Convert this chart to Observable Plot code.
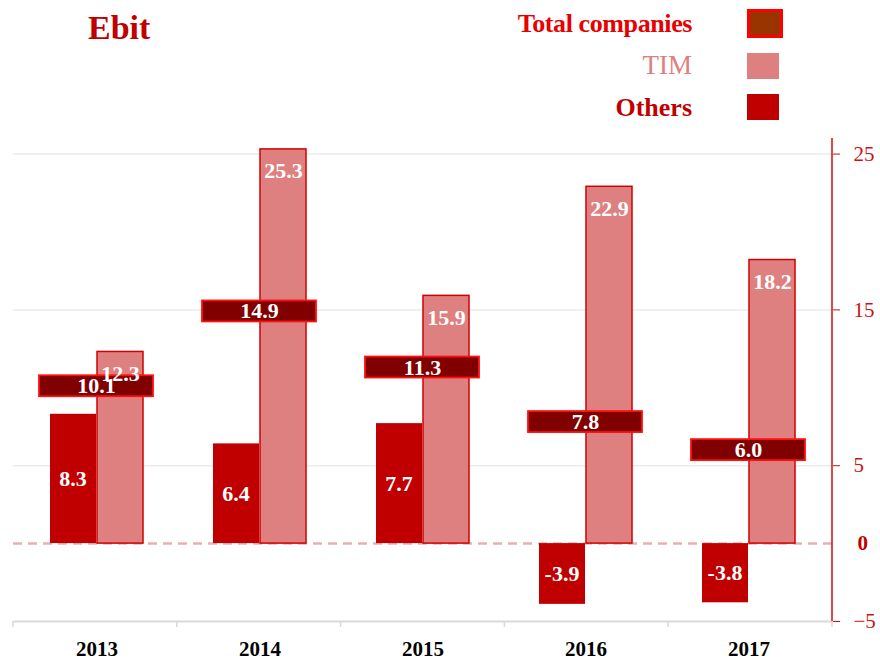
<!DOCTYPE html>
<html><head><meta charset="utf-8">
<script src="https://cdn.jsdelivr.net/npm/d3@7"></script>
<script src="https://cdn.jsdelivr.net/npm/@observablehq/plot@0.6"></script>
<style>
body{margin:0;background:#fff;font-family:"Liberation Serif",serif;}
#wrap{position:relative;width:880px;height:664px;overflow:hidden}
#head{position:relative;width:880px;height:130px}
.t{position:absolute;white-space:nowrap;line-height:1}
#title{left:88px;top:11px;font-size:34px;font-weight:bold;color:#c00000}
.lg{right:188px;text-align:right}
.sw{position:absolute;box-sizing:border-box}
</style></head><body>
<div id="wrap">
<div id="head">
  <div class="t" id="title">Ebit</div>
  <div class="t lg" style="top:11px;font-size:26px;font-weight:bold;color:#e80000;letter-spacing:-0.4px">Total companies</div>
  <div class="t lg" style="top:52px;font-size:27px;color:#df8080">TIM</div>
  <div class="t lg" style="top:95px;font-size:26px;font-weight:bold;color:#c00000">Others</div>
  <div class="sw" style="left:747px;top:9px;width:36px;height:29px;background:#993300;border:3px solid #ff0000"></div>
  <div class="sw" style="left:747px;top:53px;width:32px;height:26px;background:#df8080"></div>
  <div class="sw" style="left:747px;top:94px;width:32px;height:26px;background:#c00000"></div>
</div>
<div id="chart"></div>
</div>
<script>
const years = ["2013", "2014", "2015", "2016", "2017"];
const others = [8.3, 6.4, 7.7, -3.9, -3.8];
const tim = [12.3, 25.3, 15.9, 22.9, 18.2];
const total = [10.1, 14.9, 11.3, 7.8, 6.0];
const yTicks = [-5, 5, 15, 25];

const data = years.map((year, i) => ({year, others: others[i], tim: tim[i], total: total[i]}));
const red = "#c00000";
const fmt = v => v.toFixed(1);

const frameLines = (index, scales, values, dims) => {
  const g = d3.create("svg:g");
  const x0 = dims.marginLeft, x1 = dims.width - dims.marginRight;
  const yb = dims.height - dims.marginBottom;
  const n = years.length;
  for (let i = 0; i <= n; i++) {
    const xx = x0 + i * (x1 - x0) / n;
    g.append("line").attr("x1", xx).attr("x2", xx).attr("y1", yb).attr("y2", yb + 6)
      .attr("stroke", "#d9d9d9").attr("stroke-width", 1.5);
  }
  g.append("line").attr("x1", x1).attr("x2", x1).attr("y1", dims.marginTop).attr("y2", yb)
    .attr("stroke", "#cc1111").attr("stroke-width", 1.5);
  return g.node();
};

const chart = Plot.plot({
  width: 880, height: 534,
  marginTop: 8, marginBottom: 43, marginLeft: 13, marginRight: 48,
  style: {fontFamily: "'Liberation Serif', serif", background: "transparent", overflow: "visible"},
  x: {domain: years, padding: 0, label: null},
  y: {domain: [-5, 26], label: null},
  marks: [
    Plot.gridY([5, 15, 25], {stroke: "#ebebeb", strokeOpacity: 1, strokeWidth: 1.5}),
    Plot.ruleY([-5], {stroke: "#d9d9d9", strokeWidth: 2}),
    Plot.ruleY([0], {stroke: "#e8b0b0", strokeWidth: 2.5, strokeDasharray: "9,6"}),
    Plot.barY(data, {x: "year", y: "others", fill: red, insetLeft: 35, insetRight: 82}),
    Plot.barY(data, {x: "year", y: "tim", fill: "#df8080", stroke: "#d00000", strokeWidth: 1.5, insetLeft: 82, insetRight: 35}),
    Plot.barY(data, {x: "year", y1: "total", y2: "total", fill: "#800000", stroke: "#ff1010", strokeWidth: 1.8,
      insetLeft: 24, insetRight: 25, insetTop: -10.5, insetBottom: -10.5}),
    Plot.text(data, {x: "year", y: d => d.others / 2, text: d => fmt(d.others), dx: -24, fill: "white", fontSize: 22, fontWeight: "bold"}),
    Plot.text(data, {x: "year", y: "tim", text: d => fmt(d.tim), dx: 23.5, dy: 22, fill: "white", fontSize: 22, fontWeight: "bold"}),
    Plot.text(data, {x: "year", y: "total", text: d => fmt(d.total), dx: -0.5, fill: "white", fontSize: 22, fontWeight: "bold"}),
    Plot.axisX({tickSize: 0, tickPadding: 20, fontSize: 21, fontWeight: "bold", fill: "#000", label: null}),
    Plot.axisY({anchor: "right", ticks: yTicks, tickSize: 7, tickPadding: 14, fontSize: 21, color: "#cc1111", label: null}),
    Plot.text([0], {y: d => d, frameAnchor: "right", dx: 25, textAnchor: "start", text: d => String(d), fill: "#c00000", fontSize: 21, fontWeight: "bold"}),
    frameLines
  ]
});
document.getElementById("chart").appendChild(chart);
</script>
</body></html>
